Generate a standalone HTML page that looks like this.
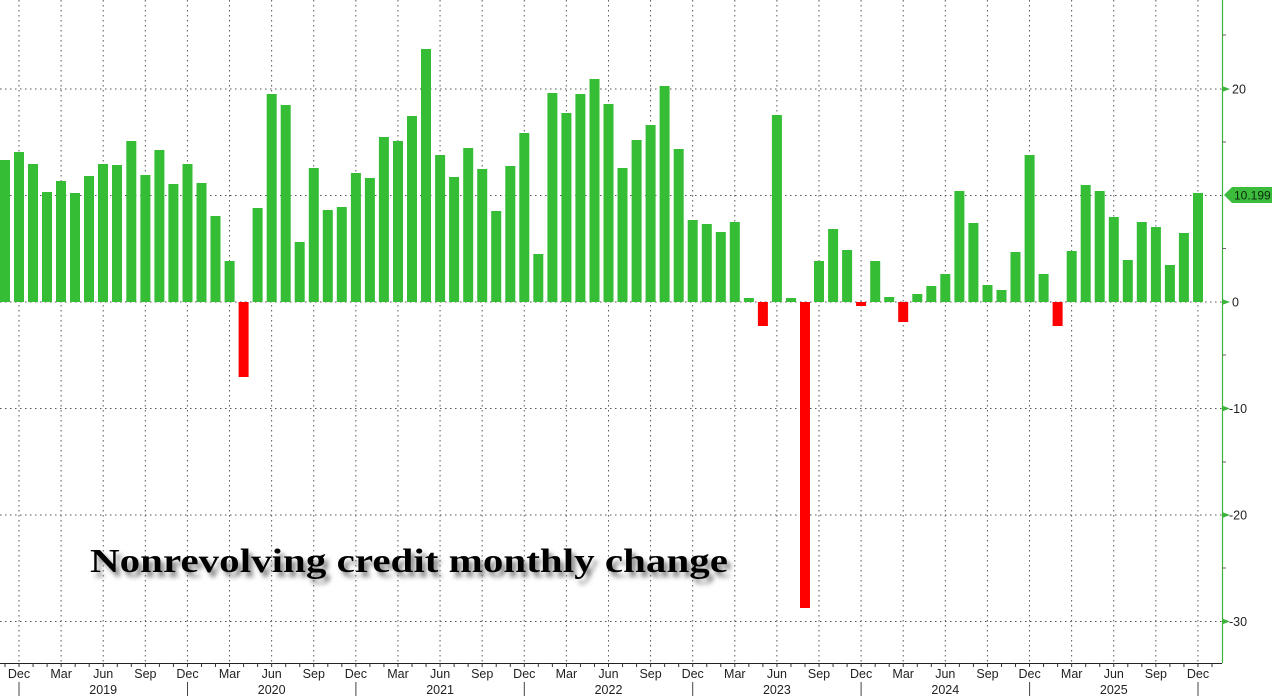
<!DOCTYPE html>
<html>
<head>
<meta charset="utf-8">
<style>
html,body{margin:0;padding:0;background:#fff;}
svg{display:block;}
text{font-family:"Liberation Sans",sans-serif;}
</style>
</head>
<body>
<svg width="1272" height="696" viewBox="0 0 1272 696" xmlns="http://www.w3.org/2000/svg">
<defs>
<filter id="sh" x="-5%" y="-30%" width="115%" height="180%">
<feGaussianBlur in="SourceAlpha" stdDeviation="2.5"/>
<feOffset dx="4" dy="5" result="b"/>
<feFlood flood-color="#7a7a7a" flood-opacity="0.9"/>
<feComposite in2="b" operator="in" result="s"/>
<feMerge><feMergeNode in="s"/><feMergeNode in="SourceGraphic"/></feMerge>
</filter>
<pattern id="mt" patternUnits="userSpaceOnUse" x="4.5" y="663" width="14.035" height="4">
<rect x="0" y="0" width="1" height="4" fill="#333"/>
</pattern>
<pattern id="vg" patternUnits="userSpaceOnUse" x="18.5" y="0" width="42.105" height="5">
<rect x="0" y="0" width="1" height="1.5" fill="#555"/>
</pattern>
<pattern id="hg" patternUnits="userSpaceOnUse" x="0" y="88.5" width="5" height="106.5">
<rect x="0" y="0" width="1.5" height="1" fill="#555"/>
</pattern>
</defs>
<rect width="1272" height="696" fill="#fff"/>
<rect x="0" y="0" width="1210" height="663" fill="url(#vg)"/>
<rect x="0" y="0" width="1222" height="663" fill="url(#hg)"/>
<path fill="#35bd35" d="M0 160h10v142h-10z M14 152h10v150h-10z M28 164h10v138h-10z M42 192h10v110h-10z M56 181h10v121h-10z M70 193h10v109h-10z M84 176h10v126h-10z M98 164h10v138h-10z M112 165h10v137h-10z M126.3 141h10v161h-10z M140.4 175h10v127h-10z M154.4 150h10v152h-10z M168.4 184h10v118h-10z M182.5 164h10v138h-10z M196.5 183h10v119h-10z M210.5 216h10v86h-10z M224.6 261h10v41h-10z M252.6 208h10v94h-10z M266.7 94h10v208h-10z M280.7 105h10v197h-10z M294.7 242h10v60h-10z M308.8 168h10v134h-10z M322.8 210h10v92h-10z M336.8 207h10v95h-10z M350.9 173h10v129h-10z M364.9 178h10v124h-10z M378.9 137h10v165h-10z M393 141h10v161h-10z M407 116h10v186h-10z M421 49h10v253h-10z M435.1 155h10v147h-10z M449.1 177h10v125h-10z M463.2 148h10v154h-10z M477.2 169h10v133h-10z M491.2 211h10v91h-10z M505.3 166h10v136h-10z M519.3 133h10v169h-10z M533.3 254h10v48h-10z M547.4 93h10v209h-10z M561.4 113h10v189h-10z M575.4 94h10v208h-10z M589.5 79h10v223h-10z M603.5 104h10v198h-10z M617.5 168h10v134h-10z M631.6 140h10v162h-10z M645.6 125h10v177h-10z M659.6 86h10v216h-10z M673.7 149h10v153h-10z M687.7 220h10v82h-10z M701.8 224h10v78h-10z M715.8 232h10v70h-10z M729.8 222h10v80h-10z M743.9 298h10v4h-10z M771.9 115h10v187h-10z M786 298h10v4h-10z M814 261h10v41h-10z M828.1 229h10v73h-10z M842.1 250h10v52h-10z M870.2 261h10v41h-10z M884.2 297h10v5h-10z M912.3 294h10v8h-10z M926.3 286h10v16h-10z M940.3 274h10v28h-10z M954.4 191h10v111h-10z M968.4 223h10v79h-10z M982.5 285h10v17h-10z M996.5 290h10v12h-10z M1010.5 252h10v50h-10z M1024.6 155h10v147h-10z M1038.6 274h10v28h-10z M1066.7 251h10v51h-10z M1080.7 185h10v117h-10z M1094.7 191h10v111h-10z M1108.8 217h10v85h-10z M1122.8 260h10v42h-10z M1136.8 222h10v80h-10z M1150.9 227h10v75h-10z M1164.9 265h10v37h-10z M1178.9 233h10v69h-10z M1193 193h10v109h-10z"/>
<path fill="#fe0000" d="M238.6 302h10v75h-10z M757.9 302h10v24h-10z M800 302h10v306h-10z M856.1 302h10v4h-10z M898.2 302h10v20h-10z M1052.6 302h10v24h-10z"/>
<line x1="0" y1="663.5" x2="1222" y2="663.5" stroke="#222" stroke-width="1"/>
<rect x="0" y="663" width="1222" height="4" fill="url(#mt)"/>
<path stroke="#444" stroke-width="1" fill="none" d="M19 682V696 M187.5 682V696 M355.9 682V696 M524.3 682V696 M692.7 682V696 M861.1 682V696 M1029.6 682V696 M1198 682V696"/>
<g font-size="12.5" fill="#222" text-anchor="middle">
<text x="19" y="678">Dec</text><text x="61.1" y="678">Mar</text><text x="103.2" y="678">Jun</text><text x="145.4" y="678">Sep</text>
<text x="187.5" y="678">Dec</text><text x="229.6" y="678">Mar</text><text x="271.7" y="678">Jun</text><text x="313.8" y="678">Sep</text>
<text x="355.9" y="678">Dec</text><text x="398" y="678">Mar</text><text x="440.1" y="678">Jun</text><text x="482.2" y="678">Sep</text>
<text x="524.3" y="678">Dec</text><text x="566.4" y="678">Mar</text><text x="608.5" y="678">Jun</text><text x="650.6" y="678">Sep</text>
<text x="692.7" y="678">Dec</text><text x="734.8" y="678">Mar</text><text x="776.9" y="678">Jun</text><text x="819" y="678">Sep</text>
<text x="861.1" y="678">Dec</text><text x="903.2" y="678">Mar</text><text x="945.3" y="678">Jun</text><text x="987.5" y="678">Sep</text>
<text x="1029.6" y="678">Dec</text><text x="1071.7" y="678">Mar</text><text x="1113.8" y="678">Jun</text><text x="1155.9" y="678">Sep</text>
<text x="1198" y="678">Dec</text>
<text x="103.2" y="694">2019</text><text x="271.7" y="694">2020</text><text x="440.1" y="694">2021</text><text x="608.5" y="694">2022</text>
<text x="776.9" y="694">2023</text><text x="945.3" y="694">2024</text><text x="1113.8" y="694">2025</text>
</g>
<line x1="1222.5" y1="0" x2="1222.5" y2="663" stroke="#3cb43c" stroke-width="1.2"/>
<path stroke="#666" stroke-width="1" d="M1222 35h4 M1222 142h4 M1222 248.5h4 M1222 355h4 M1222 462h4 M1222 568h4"/>
<path fill="#3cb43c" d="M1222 86l8 3l-8 3z M1222 299l8 3l-8 3z M1222 405.5l8 3l-8 3z M1222 512l8 3l-8 3z M1222 618.5l8 3l-8 3z"/>
<g font-size="12.5" fill="#222">
<text x="1232" y="93.5">20</text>
<text x="1232" y="306.5">0</text>
<text x="1229" y="413">-10</text>
<text x="1229" y="519.5">-20</text>
<text x="1229" y="626">-30</text>
</g>
<polygon points="1224,195 1232,187 1272,187 1272,203 1232,203" fill="#3dbb3d"/>
<text x="1234" y="199.5" font-size="12" fill="#0b2a0b">10.199</text>
<text x="90" y="572" font-weight="bold" font-size="34" fill="#000" textLength="638" lengthAdjust="spacingAndGlyphs" filter="url(#sh)" style="font-family:'Liberation Serif',serif">Nonrevolving credit monthly change</text>
</svg>
</body>
</html>
